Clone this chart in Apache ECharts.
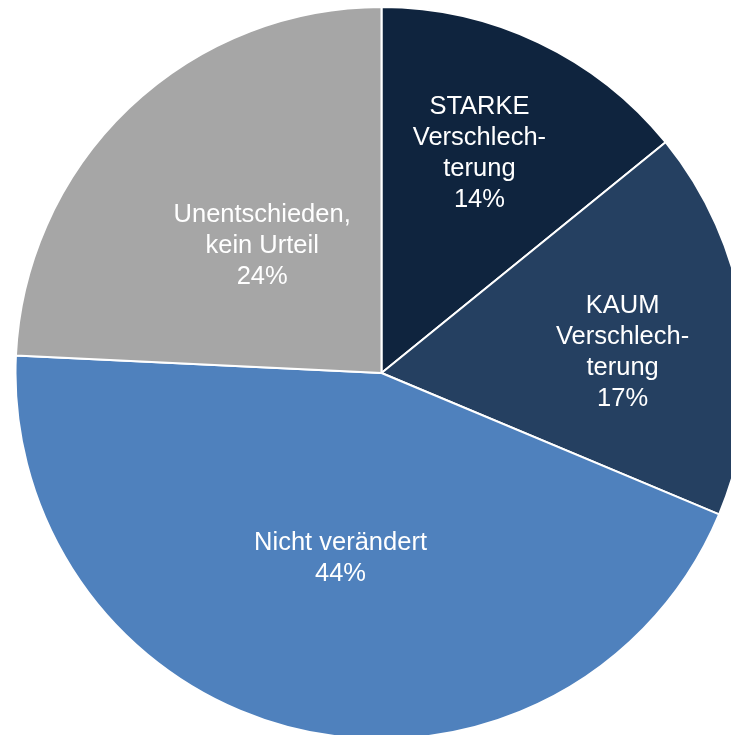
<!DOCTYPE html>
<html>
<head>
<meta charset="utf-8">
<script src="https://cdn.jsdelivr.net/npm/echarts@6/dist/echarts.min.js"></script>
<style>
html,body{margin:0;padding:0;background:#fff;}
#chart{width:731px;height:735px;}
</style>
</head>
<body>
<div id="chart"></div>
<script>
const categories = ["STARKE\nVerschlech-\nterung", "KAUM\nVerschlech-\nterung", "Nicht verändert", "Unentschieden,\nkein Urteil"];
const values = [14, 17, 44, 24];
const colors = ["#0F243E", "#254061", "#4F81BD", "#A6A6A6"];
// label nudges (layout only)
const labelOffsets = [[18, -52], [57, 6], [0, 4], [9, 8]];

const chart = echarts.init(document.getElementById('chart'), null, {renderer: 'canvas'});
const data = categories.map((c, i) => ({
  name: c,
  value: values[i],
  itemStyle: {color: colors[i]},
  label: {offset: labelOffsets[i]}
}));
chart.setOption({
  animation: false,
  backgroundColor: '#ffffff',
  series: [{
    type: 'pie',
    center: [381.5, 373],
    radius: [0, 366],
    startAngle: 90,
    clockwise: true,
    avoidLabelOverlap: false,
    data: data,
    itemStyle: {borderColor: '#ffffff', borderWidth: 2},
    label: {
      show: true,
      position: 'inside',
      formatter: p => p.name + '\n' + p.value + '%',
      color: '#ffffff',
      fontFamily: 'Liberation Sans, Arial, sans-serif',
      fontSize: 25.5,
      lineHeight: 31,
      align: 'center'
    },
    labelLine: {show: false},
    emphasis: {disabled: true}
  }]
});
</script>
</body>
</html>
